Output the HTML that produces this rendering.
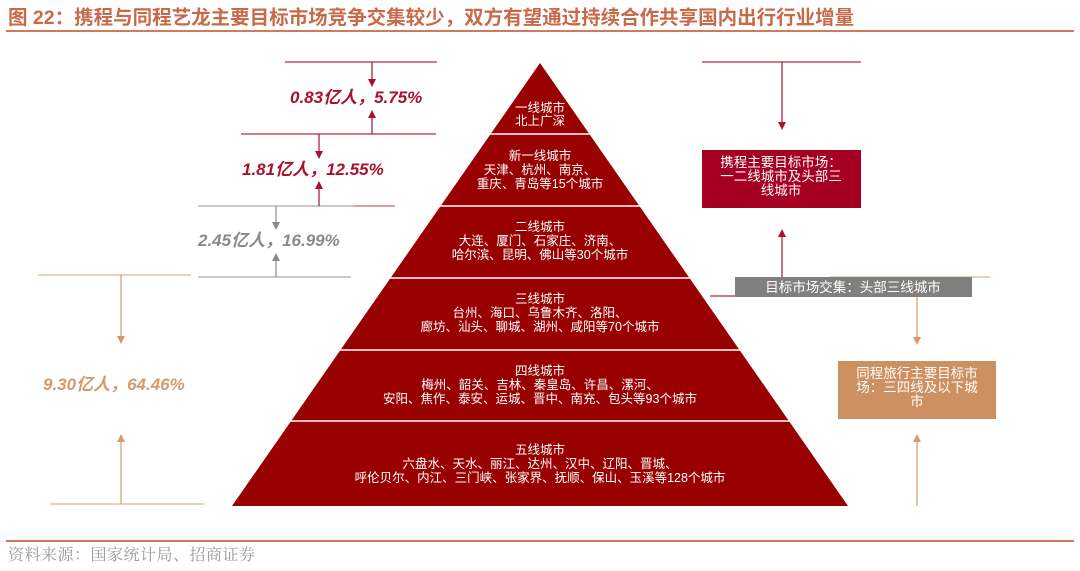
<!DOCTYPE html>
<html><head><meta charset="utf-8"><style>
body{margin:0;background:#fff;}
svg{display:block;font-family:"Liberation Sans","Noto Sans CJK SC",sans-serif;}
</style></head><body>
<svg width="1080" height="571" viewBox="0 0 1080 571">
<defs>
<marker id="ar" markerWidth="8" markerHeight="8" refX="4" refY="4" orient="auto" markerUnits="userSpaceOnUse"><path d="M0,0L8,4L0,8z" fill="#a8122b"/></marker>
<marker id="ag" markerWidth="8" markerHeight="8" refX="4" refY="4" orient="auto" markerUnits="userSpaceOnUse"><path d="M0,0L8,4L0,8z" fill="#8a8a8a"/></marker>
<marker id="ao" markerWidth="8" markerHeight="8" refX="4" refY="4" orient="auto" markerUnits="userSpaceOnUse"><path d="M0,0L8,4L0,8z" fill="#d59a6a"/></marker>
</defs>
<text x="8" y="24" font-size="19.5" font-weight="bold" fill="#c8694a">图 22：携程与同程艺龙主要目标市场竞争交集较少，双方有望通过持续合作共享国内出行行业增量</text>
<line x1="6" y1="31" x2="1074" y2="31" stroke="#d07a5a" stroke-width="2"/>
<polygon points="540,63 848,506 232,506" fill="#990000"/>
<g stroke="#fff" stroke-width="1.5">
<line x1="200" y1="134" x2="880" y2="134"/><line x1="200" y1="206" x2="880" y2="206"/>
<line x1="200" y1="278" x2="880" y2="278"/><line x1="200" y1="350" x2="880" y2="350"/>
<line x1="200" y1="421" x2="880" y2="421"/>
</g>
<g fill="#fff" font-size="12.5" text-anchor="middle">
<text x="540" y="112">一线城市</text><text x="540" y="125">北上广深</text>
<text x="540" y="160">新一线城市</text><text x="540" y="174">天津、杭州、南京、</text><text x="540" y="188">重庆、青岛等15个城市</text>
<text x="540" y="231">二线城市</text><text x="540" y="245">大连、厦门、石家庄、济南、</text><text x="540" y="259">哈尔滨、昆明、佛山等30个城市</text>
<text x="540" y="303">三线城市</text><text x="540" y="317">台州、海口、乌鲁木齐、洛阳、</text><text x="540" y="331">廊坊、汕头、聊城、湖州、咸阳等70个城市</text>
<text x="540" y="375">四线城市</text><text x="540" y="389">梅州、韶关、吉林、秦皇岛、许昌、漯河、</text><text x="540" y="403">安阳、焦作、泰安、运城、晋中、南充、包头等93个城市</text>
<text x="540" y="454">五线城市</text><text x="540" y="468">六盘水、天水、丽江、达州、汉中、辽阳、晋城、</text><text x="540" y="482">呼伦贝尔、内江、三门峡、张家界、抚顺、保山、玉溪等128个城市</text>
</g>
<g stroke-width="1.2">
<line x1="285" y1="62" x2="437" y2="62" stroke="#c0283d"/>
<line x1="241" y1="134" x2="436" y2="134" stroke="#c0283d"/>
<line x1="372" y1="62" x2="372" y2="83" stroke="#a8122b" marker-end="url(#ar)"/>
<line x1="372" y1="134" x2="372" y2="114" stroke="#a8122b" marker-end="url(#ar)"/>
<line x1="198" y1="206" x2="353" y2="206" stroke="#aaa"/>
<line x1="353" y1="206" x2="395" y2="206" stroke="#d06070"/>
<line x1="319" y1="134" x2="319" y2="155" stroke="#a8122b" marker-end="url(#ar)"/>
<line x1="319" y1="206" x2="319" y2="185" stroke="#a8122b" marker-end="url(#ar)"/>
<line x1="198" y1="277" x2="351" y2="277" stroke="#aaa"/>
<line x1="276" y1="206" x2="276" y2="226" stroke="#8a8a8a" marker-end="url(#ag)"/>
<line x1="276" y1="277" x2="276" y2="257" stroke="#8a8a8a" marker-end="url(#ag)"/>
<line x1="38" y1="275" x2="191" y2="275" stroke="#e0b090"/>
<line x1="50" y1="504" x2="204" y2="504" stroke="#e0b090"/>
<line x1="121" y1="275" x2="121" y2="340" stroke="#d59a6a" marker-end="url(#ao)"/>
<line x1="121" y1="504" x2="121" y2="438" stroke="#d59a6a" marker-end="url(#ao)"/>
</g>
<g font-size="17" font-weight="bold" font-style="italic">
<text x="290" y="103" fill="#a8122b">0.83亿人，5.75%</text>
<text x="242" y="175" fill="#a8122b">1.81亿人，12.55%</text>
<text x="198" y="246" fill="#8a8a8a">2.45亿人，16.99%</text>
<text x="43" y="390" fill="#d59a6a">9.30亿人，64.46%</text>
</g>
<g stroke-width="1.2">
<line x1="702" y1="62" x2="861" y2="62" stroke="#c0283d"/>
<line x1="782" y1="62" x2="782" y2="126" stroke="#a8122b" marker-end="url(#ar)"/>
<line x1="782" y1="277" x2="782" y2="233" stroke="#a8122b" marker-end="url(#ar)"/>
<line x1="710" y1="296" x2="736" y2="296" stroke="#c0283d"/>
<line x1="830" y1="277" x2="990" y2="277" stroke="#e0b090"/>
<line x1="917" y1="297" x2="917" y2="341" stroke="#d59a6a" marker-end="url(#ao)"/>
<line x1="917" y1="506" x2="917" y2="438" stroke="#d59a6a" marker-end="url(#ao)"/>
</g>
<rect x="702" y="150" width="159" height="58" fill="#a50021"/>
<g fill="#fff" font-size="13.5" text-anchor="middle">
<text x="781" y="167">携程主要目标市场：</text><text x="781" y="181">一二线城市及头部三</text><text x="781" y="195">线城市</text>
</g>
<rect x="735" y="277" width="237" height="20" fill="#808080"/>
<text x="853" y="292" fill="#fff" font-size="13.5" text-anchor="middle">目标市场交集：头部三线城市</text>
<rect x="838" y="361" width="158" height="58" fill="#cd9060"/>
<g fill="#fff" font-size="13.5" text-anchor="middle">
<text x="917" y="378">同程旅行主要目标市</text><text x="917" y="392">场：三四线及以下城</text><text x="917" y="406">市</text>
</g>
<line x1="6" y1="541" x2="1074" y2="541" stroke="#d07a5a" stroke-width="2"/>
<text x="8" y="560" font-size="16" fill="#999" font-family="'Noto Serif CJK SC',serif" letter-spacing="0.5">资料来源：国家统计局、招商证券</text>
</svg>
</body></html>
